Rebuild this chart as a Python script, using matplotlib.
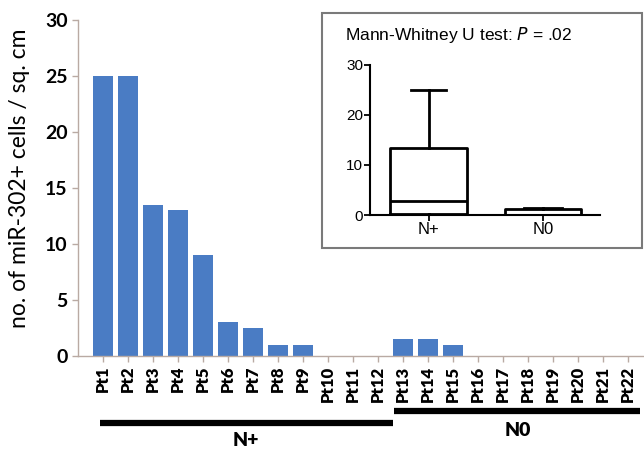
import numpy as np
import matplotlib
matplotlib.use("Agg")
import matplotlib.pyplot as plt
from matplotlib.patches import Rectangle
from matplotlib.lines import Line2D

patients = [f"Pt{i}" for i in range(1, 23)]
values = [25, 25, 13.5, 13, 9, 3, 2.5, 1, 1, 0, 0, 0,
          1.5, 1.5, 1, 0, 0, 0, 0, 0, 0, 0]
groups = ["N+"] * 12 + ["N0"] * 10
group_names = ["N+", "N0"]
yticks = [0, 5, 10, 15, 20, 25, 30]
inset_yticks = [0, 10, 20, 30]
ylabel = "no. of miR-302+ cells / sq. cm"
inset_title = "Mann-Whitney U test: $\\it{P}$ = .02"

W, H = 644, 451
fig = plt.figure(figsize=(W / 100, H / 100), dpi=100)

def fx(px):
    return px / W

def fy(py):
    return 1 - py / H

bar_color = "#4a7cc4"
spine_color = "#b9aaa3"

# main axes
ax = fig.add_axes([fx(78), fy(356), fx(644) - fx(78), fy(20) - fy(356)])
x = np.arange(len(patients))
ax.bar(x, values, width=0.8, color=bar_color)
ax.set_xlim(-1.0, 21.64)
ax.set_ylim(0, 30)
ax.set_yticks(yticks)
ax.set_yticklabels([str(t) for t in yticks], fontsize=14, fontweight="bold",
                   family="Lato")
ax.set_xticks(x)
ax.set_xticklabels(patients, rotation=90, fontsize=12, fontweight="heavy",
                   family="Lato")
for s in ["top", "right"]:
    ax.spines[s].set_visible(False)
for s in ["left", "bottom"]:
    ax.spines[s].set_color(spine_color)
    ax.spines[s].set_linewidth(1.0)
ax.tick_params(axis="both", colors=spine_color, length=4, width=1)
ax.tick_params(axis="both", labelcolor="black")
ax.tick_params(axis="x", pad=3)
ax.set_ylabel(ylabel, fontsize=16.5, family="Lato")
ax.yaxis.set_label_coords(-0.085, 0.53)

# group bars below
fig.add_artist(Line2D([fx(100), fx(393)], [fy(423), fy(423)], color="black",
                      lw=4.5, solid_capstyle="butt"))
fig.add_artist(Line2D([fx(394), fx(640)], [fy(411), fy(411)], color="black",
                      lw=4.5, solid_capstyle="butt"))
fig.text(fx(246), fy(441), "N+", fontsize=14, fontweight="heavy", family="Lato",
         ha="center", va="center")
fig.text(fx(518), fy(430), "N0", fontsize=14, fontweight="heavy", family="Lato",
         ha="center", va="center")

# inset frame
frame = Rectangle((fx(322), fy(248)), fx(642) - fx(322), fy(13) - fy(248),
                  transform=fig.transFigure, fill=True, facecolor="white",
                  edgecolor="#7a7a7a", lw=1.5, zorder=2)
fig.add_artist(frame)
t = fig.text(fx(345), fy(35), inset_title, fontsize=12.5, family="Liberation Sans",
             ha="left", va="center")
t.set_zorder(4)

# inset boxplot
iax = fig.add_axes([fx(370), fy(215), fx(600) - fx(370), fy(65) - fy(215)])
iax.set_zorder(3)
vals = np.array(values)
grp = np.array(groups)
stats = []
for g in group_names:
    d = vals[grp == g]
    q1, med, q3 = np.percentile(d, [25, 50, 75], method="weibull")
    stats.append(dict(med=med, q1=q1, q3=q3, whislo=d.min(), whishi=d.max(),
                      fliers=[], label=g))
lp = dict(color="black", linewidth=2.0)
iax.bxp(stats, positions=[1, 2], widths=0.67, showfliers=False,
        boxprops=lp, whiskerprops=lp, capprops=lp, medianprops=lp,
        capwidths=[0.3, 0.34])
iax.set_xlim(0.489, 2.498)
iax.set_ylim(0, 30)
iax.set_yticks(inset_yticks)
iax.set_yticklabels([str(t) for t in inset_yticks], fontsize=11,
                    family="Liberation Sans")
iax.set_xticks([1, 2])
iax.set_xticklabels(group_names, fontsize=12, family="Liberation Sans")
for s in ["top", "right"]:
    iax.spines[s].set_visible(False)
for s in ["left", "bottom"]:
    iax.spines[s].set_linewidth(1.5)
iax.tick_params(axis="both", length=4, width=1.3, pad=1)
iax.patch.set_alpha(0)

fig.savefig("out.png", dpi=100)
